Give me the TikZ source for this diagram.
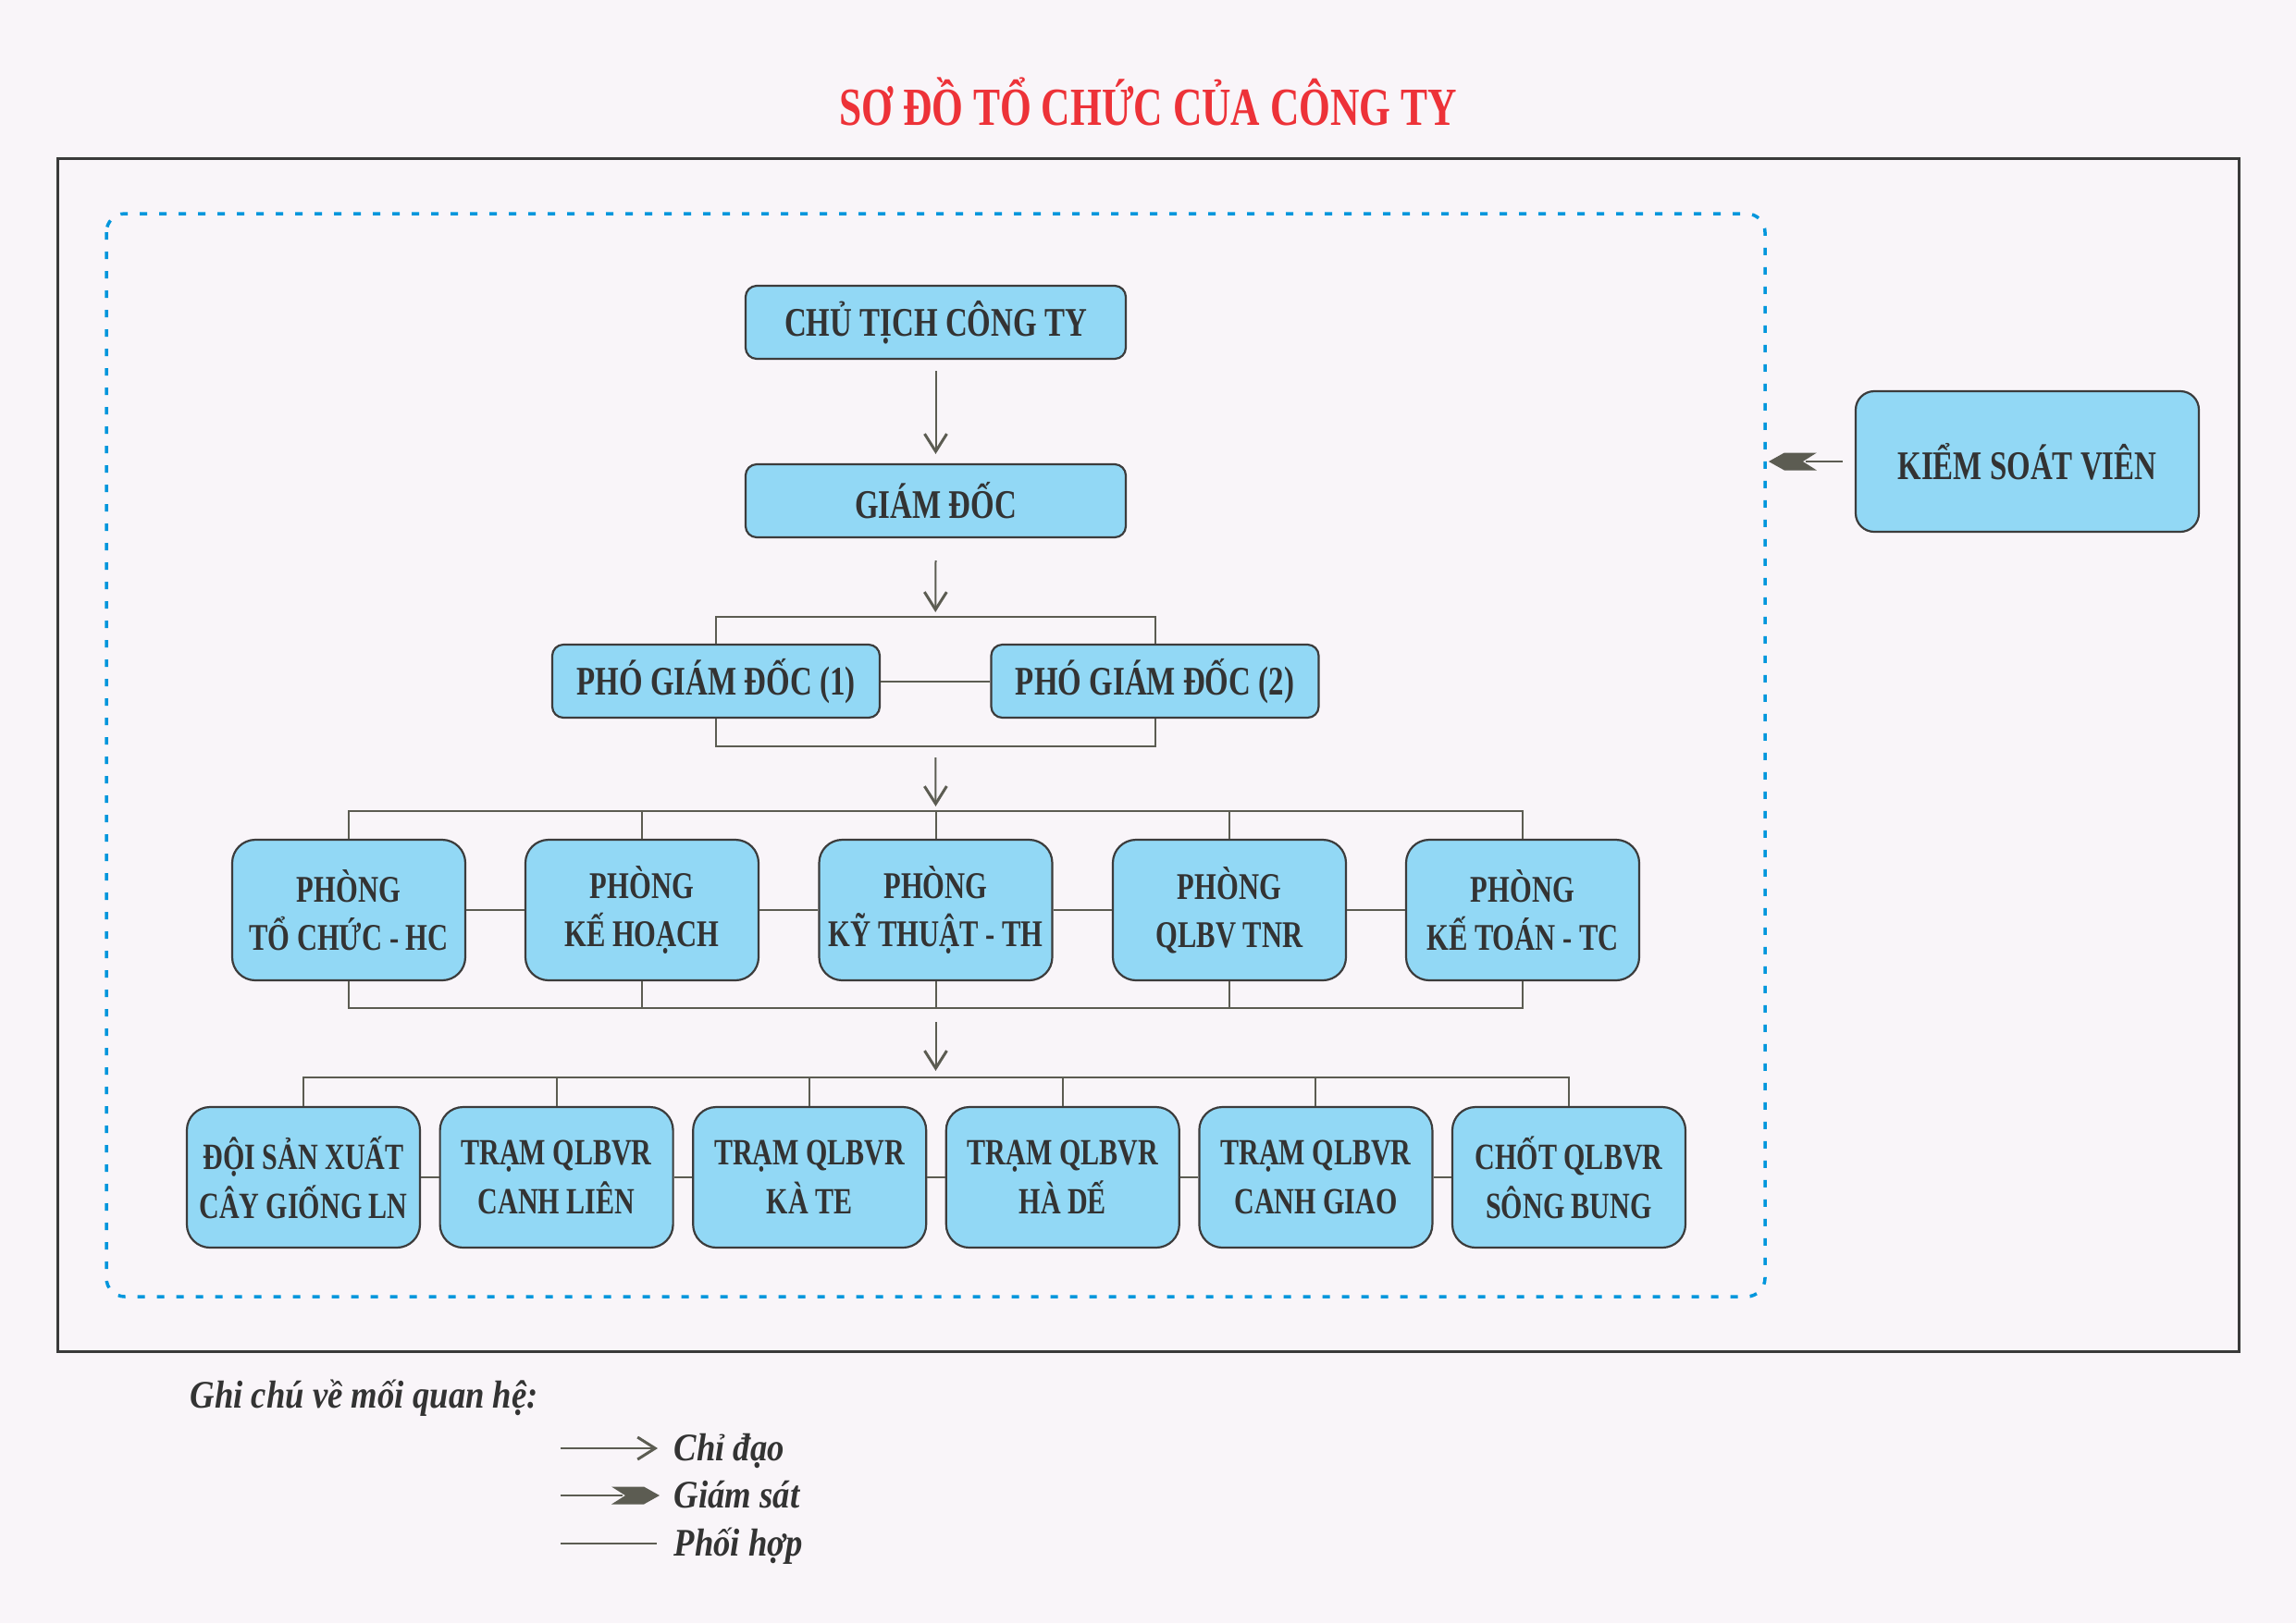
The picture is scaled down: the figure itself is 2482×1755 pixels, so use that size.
\documentclass[tikz,border=0pt]{standalone}
\usepackage{fontspec}
\newfontfamily\nodefont{Liberation Serif}[FakeStretch=0.75]
\newfontfamily\legfont{Liberation Serif}[FakeStretch=0.87]
\usetikzlibrary{arrows.meta,calc}
\definecolor{bgc}{RGB}{249,245,249}
\definecolor{boxfill}{RGB}{146,216,245}
\definecolor{boxline}{RGB}{60,60,60}
\definecolor{conn}{RGB}{92,92,82}
\definecolor{titlered}{RGB}{237,50,56}
\definecolor{dashblue}{RGB}{0,150,220}
\definecolor{txt}{RGB}{51,51,51}
\definecolor{frame}{RGB}{58,58,58}
\begin{document}
\begin{tikzpicture}[x=0.1mm,y=-0.1mm,
  box/.style={draw=boxline, line width=0.22mm, fill=boxfill, text=txt, inner sep=0pt, align=center,
    font=\nodefont\bfseries\fontsize{12.5}{15}\selectfont},
  topbox/.style={box, rounded corners=1.2mm, minimum width=41.1mm, minimum height=7.9mm},
  pgdbox/.style={box, rounded corners=1.2mm, minimum width=35.4mm, minimum height=7.9mm},
  phbox/.style={box, rounded corners=2.5mm, minimum width=25.2mm, minimum height=15.2mm,
    font=\nodefont\bfseries\fontsize{11.6}{14.8}\selectfont},
  trbox/.style={box, rounded corners=2.5mm, minimum width=25.2mm, minimum height=15.2mm,
    font=\nodefont\bfseries\fontsize{11.4}{15}\selectfont},
  ksvbox/.style={box, rounded corners=2mm, minimum width=37.1mm, minimum height=15.2mm},
  cline/.style={draw=conn, line width=0.2mm},
  chidao/.style={cline, -{Straight Barb[length=1.9mm,width=2.4mm,line width=0.3mm]}},
  legtext/.style={anchor=base west, text=txt, inner sep=0pt, font=\legfont\bfseries\itshape\fontsize{12}{14}\selectfont},
  gshead/.pic={\fill[conn] (0,0) -- (-17,-9.5) -- (-52,-9.5) -- (-37,0) -- (-52,9.5) -- (-17,9.5) -- cycle;}
]
\fill[bgc] (0,0) rectangle (2482,1755);
\useasboundingbox (0,0) rectangle (2482,1755);

% title
\node[anchor=base, text=titlered, inner sep=0pt, font=\nodefont\bfseries\fontsize{16.5}{19}\selectfont] (title) at (1241,135) {SƠ ĐỒ TỔ CHỨC CỦA CÔNG TY};

% outer frame and dashed group
\draw[frame, line width=0.3mm] (62,171) rectangle (2420,1461);
\draw[dashblue, line width=0.35mm, dash pattern=on 0.8mm off 1.3mm, rounded corners=2mm] (115,231) rectangle (1908,1402);

% nodes
\node[topbox] (ct) at (1011.5,348.5) {CHỦ TỊCH CÔNG TY};
\node[topbox] (gd) at (1011.5,541.5) {GIÁM ĐỐC};
\node[pgdbox] (pgd1) at (774,736.5) {PHÓ GIÁM ĐỐC (1)};
\node[pgdbox] (pgd2) at (1248.5,736.5) {PHÓ GIÁM ĐỐC (2)};

\node[phbox] (p1) at (377,984) {PHÒNG\\TỔ CHỨC - HC};
\node[phbox] (p2) at (694,984) {PHÒNG\\KẾ HOẠCH};
\node[phbox] (p3) at (1011.5,984) {PHÒNG\\KỸ THUẬT - TH};
\node[phbox] (p4) at (1329,984) {PHÒNG\\QLBV TNR};
\node[phbox] (p5) at (1646,984) {PHÒNG\\KẾ TOÁN - TC};

\node[trbox] (b1) at (328,1273) {ĐỘI SẢN XUẤT\\CÂY GIỐNG LN};
\node[trbox] (b2) at (601.6,1273) {TRẠM QLBVR\\CANH LIÊN};
\node[trbox] (b3) at (875.2,1273) {TRẠM QLBVR\\KÀ TE};
\node[trbox] (b4) at (1148.8,1273) {TRẠM QLBVR\\HÀ DẾ};
\node[trbox] (b5) at (1422.4,1273) {TRẠM QLBVR\\CANH GIAO};
\node[trbox] (b6) at (1696,1273) {CHỐT QLBVR\\SÔNG BUNG};

\node[ksvbox] (ksv) at (2191.5,499) {KIỂM SOÁT VIÊN};

% connectors
\draw[chidao] ($(ct.south)+(0,12)$) -- ($(gd.north)+(0,-10)$);

\draw[cline] (pgd1.north) -- ++(0,-29) -| (pgd2.north);
\coordinate (pt) at ($(pgd1.north)!0.5!(pgd2.north)+(0,-29)$);
\draw[chidao] ($(gd.south)+(0,24)$) -- ($(pt)+(0,-5)$);
\draw[cline] (pgd1.east) -- (pgd2.west);
\draw[cline] (pgd1.south) -- ++(0,30) -| (pgd2.south);
\coordinate (pb) at ($(pgd1.south)!0.5!(pgd2.south)+(0,30)$);

\coordinate (ptb) at ($(p3.north)+(0,-30)$);
\draw[chidao] ($(pb)+(0,12)$) -- ($(ptb)+(0,-5)$);
\draw[cline] (p1.north) -- ++(0,-30) -| (p5.north);
\foreach \n in {p2,p3,p4} \draw[cline] (\n.north) -- ++(0,-30);
\draw[cline] (p1.south) -- ++(0,29) -| (p5.south);
\foreach \n in {p2,p3,p4} \draw[cline] (\n.south) -- ++(0,29);
\draw[cline] (p1.east) -- (p2.west);
\draw[cline] (p2.east) -- (p3.west);
\draw[cline] (p3.east) -- (p4.west);
\draw[cline] (p4.east) -- (p5.west);

\coordinate (pbb) at ($(p3.south)+(0,29)$);
\coordinate (bbus) at ($(b1.north)+(0,-31)$);
\coordinate (barr) at (pbb |- bbus);
\draw[chidao] ($(pbb)+(0,15)$) -- ($(barr)+(0,-7)$);
\draw[cline] (b1.north) -- ++(0,-31) -| (b6.north);
\foreach \n in {b2,b3,b4,b5} \draw[cline] (\n.north) -- ++(0,-31);
\draw[cline] (b1.east) -- (b2.west);
\draw[cline] (b2.east) -- (b3.west);
\draw[cline] (b3.east) -- (b4.west);
\draw[cline] (b4.east) -- (b5.west);
\draw[cline] (b5.east) -- (b6.west);

% supervision arrow
\coordinate (kstip) at ($(ksv.west)+(-93,0)$);
\draw[cline] ($(ksv.west)+(-13,0)$) -- ($(kstip)+(40,0)$);
\pic[rotate=180] at (kstip) {gshead};

% legend
\node[legtext] (lh) at (205,1522) {Ghi chú về mối quan hệ:};
\coordinate (l1a) at (606,1566);
\coordinate (l1b) at (711,1566);
\draw[chidao] (l1a) -- (l1b);
\node[legtext] (lt1) at (728,1579) {Chỉ đạo};
\coordinate (l2a) at (606,1617);
\coordinate (l2tip) at (713,1617);
\draw[cline] (l2a) -- ($(l2tip)+(-40,0)$);
\pic at (l2tip) {gshead};
\node[legtext] (lt2) at (728,1630) {Giám sát};
\coordinate (l3a) at (606,1669);
\coordinate (l3b) at (710,1669);
\draw[cline] (l3a) -- (l3b);
\node[legtext] (lt3) at (728,1682) {Phối hợp};
\end{tikzpicture}
\end{document}
